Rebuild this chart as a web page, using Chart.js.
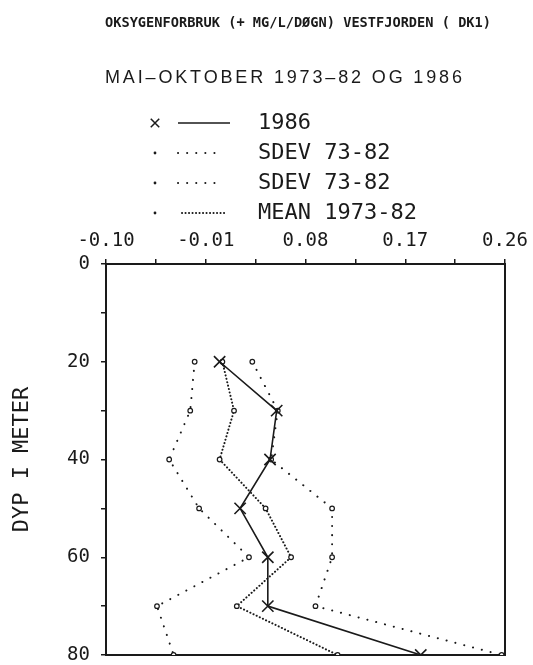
<!DOCTYPE html>
<html>
<head>
<meta charset="utf-8">
<script src="https://cdn.jsdelivr.net/npm/chart.js@4.4.1/dist/chart.umd.min.js"></script>
<style>
  html, body { margin: 0; padding: 0; background: #fff; }
  canvas { display: block; }
</style>
</head>
<body>
<canvas id="profil" width="533" height="665"></canvas>
<script>
// oksygenforbruk, Vestfjorden DK1
var depths = [20, 30, 40, 50, 60, 70, 80];
var obs1986 = [0.0025, 0.054, 0.048, 0.021, 0.046, 0.046, 0.184];
var sdevLow = [-0.020, -0.024, -0.043, -0.016, 0.029, -0.054, -0.039];
var sdevHigh = [0.032, 0.055, 0.049, 0.104, 0.104, 0.089, 0.257];
var mean7382 = [0.005, 0.0155, 0.0025, 0.044, 0.067, 0.018, 0.109];

var seriesNames = ['1986', 'SDEV 73-82', 'SDEV 73-82', 'MEAN 1973-82'];
var xTickLabels = ['-0.10', '-0.01', '0.08', '0.17', '0.26'];
var yTickLabels = ['0', '20', '40', '60', '80'];

var titleText = 'OKSYGENFORBRUK (+ MG/L/DØGN) VESTFJORDEN ( DK1)';
var subtitleText = 'MAI–OKTOBER 1973–82 OG 1986';

var ink = '#1a1a1a';
var mono = '"DejaVu Sans Mono", "Liberation Mono", monospace';

function pairs(vals) {
    return vals.map(function (v, i) { return { x: v, y: depths[i] }; });
}

// no extra room for label overflow, the box is placed by hand
function fixSize(w, h) {
    return function (scale) {
        if (w !== null) scale.width = w;
        if (h !== null) scale.height = h;
        scale.paddingTop = 0;
        scale.paddingBottom = 0;
        scale.paddingLeft = 0;
        scale.paddingRight = 0;
    };
}

// header text + the plotter style legend (marker, line sample, label)
var plotterLegend = {
    id: 'plotterLegend',
    afterDraw: function (chart) {
        var ctx = chart.ctx;
        ctx.save();
        ctx.fillStyle = ink;
        ctx.strokeStyle = ink;
        ctx.textBaseline = 'middle';

        ctx.textAlign = 'center';
        ctx.font = 'bold 14px ' + mono;
        ctx.fillText(titleText, 298, 23, 386);

        ctx.textAlign = 'left';
        ctx.font = '18px "Liberation Sans", Arial, sans-serif';
        ctx.letterSpacing = '0px';
        var w = ctx.measureText(subtitleText).width;
        var sp = (357 - w) / (subtitleText.length - 1);
        ctx.letterSpacing = sp.toFixed(2) + 'px';
        ctx.fillText(subtitleText, 105, 78);
        ctx.letterSpacing = '0px';

        ctx.font = '22px ' + mono;
        chart.data.datasets.forEach(function (ds, i) {
            var y = 123 + i * 30;
            ctx.setLineDash([]);
            ctx.lineWidth = 1.5;
            Chart.helpers.drawPoint(ctx, {
                pointStyle: i === 0 ? 'crossRot' : 'circle',
                radius: i === 0 ? 6 : 1.4,
                borderWidth: i === 0 ? 1.5 : 0
            }, 155, y);

            ctx.beginPath();
            ctx.lineWidth = ds.borderWidth;
            ctx.lineCap = ds.borderCapStyle || 'butt';
            ctx.setLineDash(ds.borderDash || []);
            var x0 = i === 3 ? 182 : 178;
            var x1 = i === 0 ? 230 : (i === 3 ? 227 : 222);
            ctx.moveTo(x0, y);
            ctx.lineTo(x1, y);
            ctx.stroke();
            ctx.setLineDash([]);

            ctx.fillText(ds.label, 258, y);
        });
        ctx.restore();
    }
};

var dotted = {
    borderColor: ink,
    borderWidth: 2,
    borderCapStyle: 'round',
    borderDash: [0.1, 9],
    pointStyle: 'circle',
    pointRadius: 2.3,
    pointBorderWidth: 1.2,
    pointBorderColor: ink,
    pointBackgroundColor: '#fff',
    showLine: true,
    fill: false
};

new Chart(document.getElementById('profil'), {
    type: 'scatter',
    data: {
        datasets: [
            {
                label: seriesNames[0],
                data: pairs(obs1986),
                borderColor: ink,
                borderWidth: 1.6,
                pointStyle: 'crossRot',
                pointRadius: 8,
                pointBorderWidth: 1.6,
                pointBorderColor: ink,
                showLine: true,
                order: 0
            },
            Object.assign({}, dotted, { label: seriesNames[1], data: pairs(sdevLow) }),
            Object.assign({}, dotted, { label: seriesNames[2], data: pairs(sdevHigh) }),
            Object.assign({}, dotted, {
                label: seriesNames[3],
                data: pairs(mean7382),
                borderDash: [0.1, 3.4]
            })
        ]
    },
    options: {
        responsive: false,
        animation: false,
        layout: { padding: 0 },
        plugins: {
            legend: { display: false },
            title: { display: false },
            tooltip: { enabled: false }
        },
        scales: {
            x: {
                type: 'linear',
                position: 'top',
                min: -0.10,
                max: 0.26,
                afterFit: fixSize(null, 264),
                ticks: {
                    stepSize: 0.045,
                    autoSkip: false,
                    maxRotation: 0,
                    padding: 7,
                    color: ink,
                    font: { family: mono, size: 19 },
                    callback: function (v, i) { return i % 2 ? '' : xTickLabels[i / 2]; }
                },
                grid: { drawOnChartArea: false, tickLength: 5, color: ink, lineWidth: 1.5 },
                border: { color: ink, width: 2 }
            },
            y: {
                type: 'linear',
                position: 'left',
                reverse: true,
                min: 0,
                max: 80,
                afterFit: fixSize(106, null),
                title: {
                    display: true,
                    text: 'DYP I METER',
                    color: ink,
                    font: { family: mono, size: 22 },
                    padding: { top: 9, bottom: 0 }
                },
                ticks: {
                    stepSize: 10,
                    autoSkip: false,
                    padding: 11,
                    color: ink,
                    font: { family: mono, size: 19 },
                    callback: function (v) {
                        var k = yTickLabels.indexOf(String(v));
                        return k < 0 ? '' : yTickLabels[k];
                    }
                },
                grid: { drawOnChartArea: false, tickLength: 5, color: ink, lineWidth: 1.5 },
                border: { color: ink, width: 2 }
            },
            x2: {
                type: 'linear',
                position: 'bottom',
                min: -0.10,
                max: 0.26,
                afterFit: fixSize(null, 10),
                ticks: { display: false },
                grid: { display: false },
                border: { color: ink, width: 2 }
            },
            y2: {
                type: 'linear',
                position: 'right',
                min: 0,
                max: 80,
                afterFit: fixSize(28, null),
                ticks: { display: false },
                grid: { display: false },
                border: { color: ink, width: 2 }
            }
        }
    },
    plugins: [plotterLegend]
});
</script>
</body>
</html>
